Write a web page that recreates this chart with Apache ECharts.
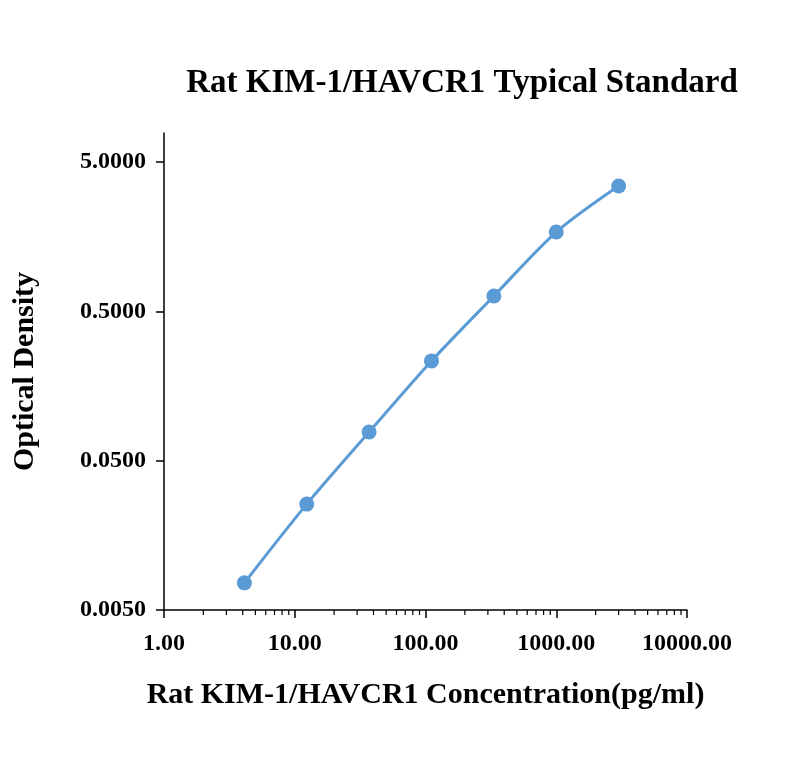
<!DOCTYPE html>
<html><head><meta charset="utf-8">
<script src="https://cdn.jsdelivr.net/npm/echarts@6/dist/echarts.min.js"></script>
<style>html,body{margin:0;background:#fff}#c{width:800px;height:768px}</style>
</head><body><div id="c"></div>
<script>
var conc = [4.12, 12.35, 37.04, 111.11, 333.33, 1000, 3000];
var od = [0.0076, 0.0256, 0.0778, 0.233, 0.634, 1.70, 3.46];
var yBase = 0.005;
var minorX = [];
for (var k = 0; k < 4; k++) for (var m = 2; m <= 9; m++) minorX.push(m * Math.pow(10, k));

var font = 'Liberation Serif';
var chart = echarts.init(document.getElementById('c'));
chart.setOption({
  animation: false,
  title: { text: 'Rat KIM-1/HAVCR1 Typical Standard', left: 457, top: 62, textAlign: 'center',
    textStyle: { fontFamily: font, fontSize: 33, fontWeight: 'bold', color: '#000' } },
  grid: { left: 164, right: 113, top: 133, bottom: 158 },
  xAxis: { type: 'log', logBase: 10, min: 1, max: 10000,
    name: 'Rat KIM-1/HAVCR1 Concentration(pg/ml)', nameLocation: 'middle', nameGap: 70,
    nameTextStyle: { fontFamily: font, fontSize: 30, fontWeight: 'bold', color: '#000' },
    axisLine: { lineStyle: { color: '#000', width: 1.5 } },
    axisTick: { inside: false, length: 8, lineStyle: { color: '#000', width: 1.5 } },
    axisLabel: { fontFamily: font, fontSize: 24, fontWeight: 'bold', color: '#000', margin: 22,
      formatter: function (v) { return v.toFixed(2); } },
    splitLine: { show: false } },
  yAxis: { type: 'value', min: 0, max: 3.195, interval: 1,
    name: 'Optical Density', nameLocation: 'middle', nameGap: 124,
    nameTextStyle: { fontFamily: font, fontSize: 30, fontWeight: 'bold', color: '#000' },
    axisLine: { show: true, lineStyle: { color: '#000', width: 1.5 } },
    axisTick: { show: true, length: 8, lineStyle: { color: '#000', width: 1.5 } },
    axisLabel: { fontFamily: font, fontSize: 24, fontWeight: 'bold', color: '#000', margin: 18,
      showMaxLabel: false,
      formatter: function (v) { return (yBase * Math.pow(10, v)).toFixed(4); } },
    splitLine: { show: false } },
  series: [{
    type: 'line', smooth: 0.3, symbol: 'circle', symbolSize: 15,
    lineStyle: { color: '#5b9bd5', width: 3 }, itemStyle: { color: '#5b9bd5' },
    data: conc.map(function (c, i) { return [c, Math.log10(od[i] / yBase)]; })
  }, {
    type: 'custom', silent: true,
    data: minorX.map(function (x) { return [x, 0]; }),
    renderItem: function (params, api) {
      var p = api.coord([api.value(0), 0]);
      return { type: 'line', shape: { x1: p[0], y1: p[1], x2: p[0], y2: p[1] + 5 },
        style: { stroke: '#000', lineWidth: 1.2 } };
    }
  }]
});
</script></body></html>
